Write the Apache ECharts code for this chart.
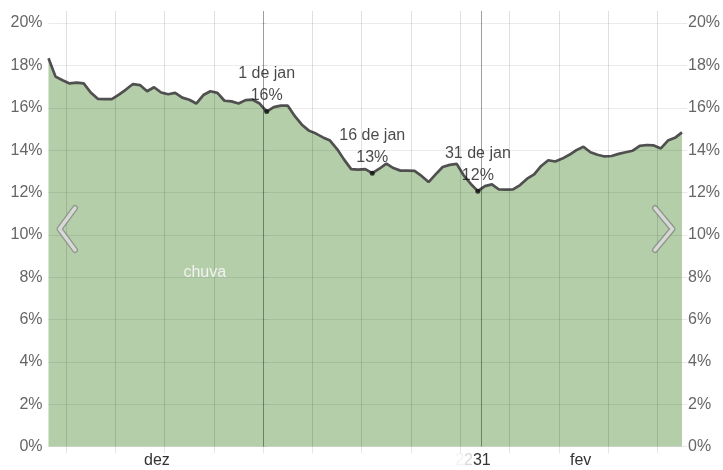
<!DOCTYPE html>
<html><head><meta charset="utf-8">
<script src="https://cdn.jsdelivr.net/npm/echarts@6/dist/echarts.min.js"></script>
<style>html,body{margin:0;padding:0;background:#fff}#c{width:723px;height:470px}</style>
</head><body><div id="c"></div>
<script>
// day offsets relative to 1 de jan (0); first value = 1 de dez
const dayStart = -31;
const rainPct = [
 18.34,17.47,17.30,17.15,17.19,17.15,16.72,16.42,16.41,16.41,
 16.62,16.86,17.12,17.07,16.78,16.97,16.72,16.64,16.70,16.48,
 16.38,16.20,16.60,16.78,16.70,16.33,16.30,16.20,16.36,16.38,
 16.20,
 15.82,16.03,16.10,16.10,15.60,15.20,14.92,14.78,14.60,14.45,
 14.05,13.55,13.10,13.08,13.10,12.91,13.12,13.36,13.15,13.03,
 13.03,13.02,12.78,12.49,12.85,13.20,13.30,13.35,12.80,12.40,
 12.06,12.30,12.38,12.14,12.13,12.14,12.35,12.65,12.85,13.25,
 13.52,13.46,13.60,13.78,14.00,14.16,13.90,13.78,13.70,13.72,
 13.82,13.90,13.97,14.20,14.24,14.22,14.08,14.45,14.58,14.84];
const annDays = [0, 15, 30];
const annLabels = ['1 de jan', '16 de jan', '31 de jan'];
const weekLines = [-28.5,-21.5,-14.5,-7.5,-0.5,6.5,13.5,20.5,27.5,34.5,41.5,48.5,55.5];
const darkLines = [-0.5, 30.5];
const monthPos = [-15.6, 29.3, 44.6];
const monthLabels = ['dez', '{fa|2}{fb|2}31', 'fev'];
const yTicks = [0,2,4,6,8,10,12,14,16,18,20];
const seriesName = 'chuva';
const seriesNamePos = [-8.8, 8.2];

const seriesData = rainPct.map((v, i) => [dayStart + i, v]);
const annData = annDays.map((d, i) => ({ value: [d, rainPct[d - dayStart]], name: annLabels[i] }));

const FONT = "'Liberation Sans', Arial, sans-serif";
const FS = 16;
const chart = echarts.init(document.getElementById('c'));

const gridLines = []
  .concat(weekLines.filter(x => darkLines.indexOf(x) < 0).map(x => ({ xAxis: x, lineStyle: { color: 'rgba(0,0,0,0.12)', width: 1, type: 'solid' } })))
  .concat(darkLines.map(x => ({ xAxis: x, lineStyle: { color: 'rgba(0,0,0,0.38)', width: 1, type: 'solid' } })))
  .concat(yTicks.map(y => ({ yAxis: y, lineStyle: { color: 'rgba(0,0,0,0.08)', width: 1, type: 'solid' } })));

function yAxisDef(pos) {
  return {
    type: 'value', position: pos, min: 0, max: 20.57,
    axisLine: { show: false },
    splitLine: { show: false },
    axisTick: { show: true, customValues: yTicks, length: 5, lineStyle: { color: '#e8e8e8' } },
    axisLabel: { customValues: yTicks, formatter: v => v + '%', color: '#666', fontSize: FS, fontFamily: FONT, margin: 6 }
  };
}

chart.setOption({
  animation: false,
  grid: { left: 48.5, right: 40.5, top: 11, bottom: 23.5 },
  xAxis: {
    type: 'value', min: -31, max: 59,
    axisLine: { show: false },
    splitLine: { show: false },
    axisTick: { show: true, customValues: weekLines, length: 7, lineStyle: { color: '#e6e6e6' } },
    axisLabel: {
      customValues: monthPos,
      formatter: (v) => {
        let best = 0;
        monthPos.forEach((p, i) => { if (Math.abs(p - v) < Math.abs(monthPos[best] - v)) best = i; });
        return monthLabels[best];
      },
      color: '#333', fontSize: FS, fontFamily: FONT, margin: 6,
      rich: {
        fa: { color: '#f3f3f3', fontSize: FS, fontFamily: FONT },
        fb: { color: '#d9d9d9', fontSize: FS, fontFamily: FONT }
      }
    }
  },
  yAxis: [yAxisDef('left'), yAxisDef('right')],
  series: [
    {
      name: seriesName, type: 'line', data: seriesData, showSymbol: false, z: 2,
      lineStyle: { color: '#505050', width: 2.7 },
      itemStyle: { color: '#505050' },
      areaStyle: { color: 'rgb(104,157,84)', opacity: 0.5, origin: 'start' },
      markLine: { silent: true, symbol: 'none', label: { show: false }, animation: false, data: gridLines },
      markPoint: {
        silent: true, symbol: 'rect', symbolSize: 1, itemStyle: { color: 'rgba(0,0,0,0)' },
        label: { show: true, position: 'inside', formatter: seriesName, color: '#f2f2f2', fontSize: FS, fontFamily: FONT },
        data: [{ coord: seriesNamePos }]
      }
    },
    {
      type: 'scatter', data: annData, symbolSize: 5, z: 5,
      itemStyle: { color: '#111' },
      label: {
        show: true, position: 'top', distance: 2,
        formatter: p => p.name + '\n' + Math.round(p.value[1]) + '%',
        color: '#1a1a1a', fontSize: FS, fontFamily: FONT, lineHeight: 22, align: 'center'
      }
    }
  ],
  graphic: [
    { type: 'polyline', shape: { points: [[75,208],[59.5,229],[75,250]] }, style: { stroke: 'rgba(110,110,110,0.55)', lineWidth: 6, fill: null, lineCap: 'round', lineJoin: 'round' }, z: 10 },
    { type: 'polyline', shape: { points: [[75,208],[59.5,229],[75,250]] }, style: { stroke: '#d8d8d8', lineWidth: 3.5, fill: null, lineCap: 'round', lineJoin: 'round' }, z: 11 },
    { type: 'polyline', shape: { points: [[655,208],[672.5,229],[655,250]] }, style: { stroke: 'rgba(110,110,110,0.55)', lineWidth: 6, fill: null, lineCap: 'round', lineJoin: 'round' }, z: 10 },
    { type: 'polyline', shape: { points: [[655,208],[672.5,229],[655,250]] }, style: { stroke: '#d8d8d8', lineWidth: 3.5, fill: null, lineCap: 'round', lineJoin: 'round' }, z: 11 }
  ]
});
</script>
</body></html>
